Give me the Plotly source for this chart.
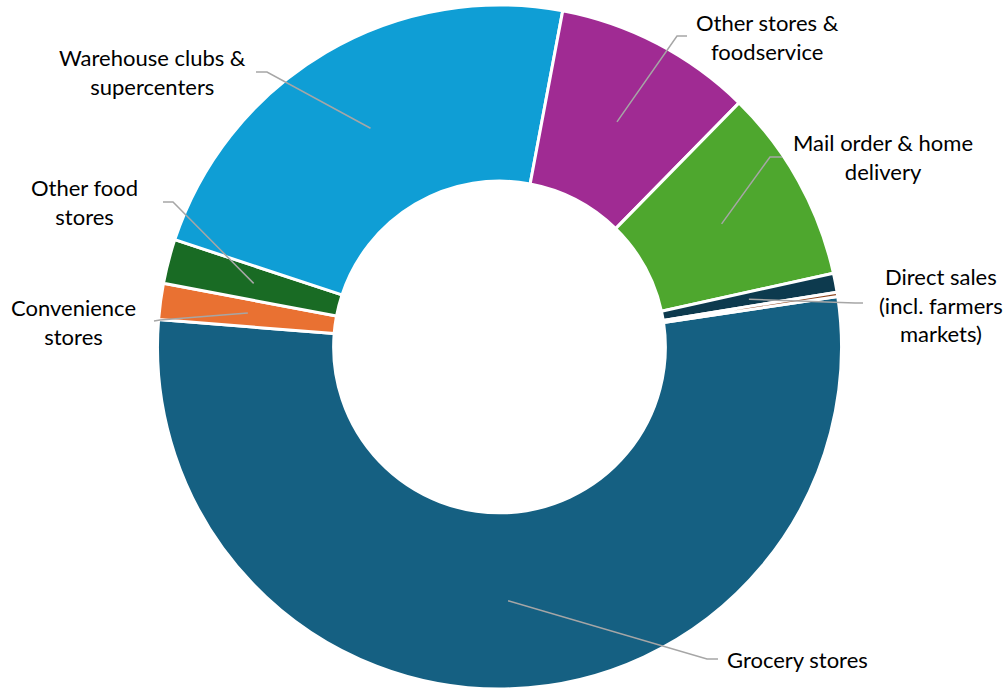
import math
import plotly.graph_objects as go

# Share of food-at-home spending by outlet (percent)
outlets = [
    "Grocery stores",
    "Convenience stores",
    "Other food stores",
    "Warehouse clubs & supercenters",
    "Other stores & foodservice",
    "Mail order & home delivery",
    "Direct sales (incl. farmers markets)",
    "Home production & donations",
]
shares = [53.7, 1.7, 2.1, 22.9, 9.4, 9.2, 0.9, 0.2]
label_texts = [
    "Grocery stores",
    "Convenience<br>stores",
    "Other food<br>stores",
    "Warehouse clubs &<br>supercenters",
    "Other stores &<br>foodservice",
    "Mail order & home<br>delivery",
    "Direct sales<br>(incl. farmers<br>markets)",
    "",
]
colors = ["#156082", "#E97132", "#196B24", "#0F9ED5",
          "#A02B93", "#4EA72E", "#0D3A4E", "#8C441E"]

W, H = 1008, 690
CX, CY, R = 499.5, 347.0, 342.0
ROTATION = 81.5
HOLE = 0.485

# Label placement (pixel centre of text block, elbow point, end of leader)
label_layout = {
    "Grocery stores": dict(text=(797, 659), elbow=(707, 659), end=(718, 659)),
    "Convenience stores": dict(text=(73, 322), elbow=(160, 320), end=(154, 321)),
    "Other food stores": dict(text=(84, 202), elbow=(173, 202), end=(163, 202)),
    "Warehouse clubs & supercenters": dict(text=(152, 72), elbow=(267, 72), end=(256, 72)),
    "Other stores & foodservice": dict(text=(767, 37), elbow=(677, 36), end=(687, 36)),
    "Mail order & home delivery": dict(text=(883, 157), elbow=(770, 157), end=(782, 157)),
    "Direct sales (incl. farmers markets)": dict(text=(941, 305), elbow=(855, 303), end=(863, 303)),
}


def px(x, y):
    return x / W, 1 - y / H


fig = go.Figure(go.Pie(
    labels=outlets,
    values=shares,
    sort=False,
    direction="clockwise",
    rotation=ROTATION,
    hole=HOLE,
    textinfo="none",
    hoverinfo="label+percent",
    marker=dict(colors=colors, line=dict(color="white", width=3)),
    domain=dict(x=[(CX - R) / W, (CX + R) / W],
                y=[(H - CY - R) / H, (H - CY + R) / H]),
    showlegend=False,
))

shapes = []
annotations = []
total = sum(shares)
cum = 0.0
lead_r = R * (1 + HOLE) / 2
for name, v, txt in zip(outlets, shares, label_texts):
    mid = math.radians(ROTATION + (cum + v / 2) / total * 360)
    cum += v
    if name not in label_layout:
        continue
    spec = label_layout[name]
    sx = CX + lead_r * math.sin(mid)
    sy = CY - lead_r * math.cos(mid)
    pts = [px(sx, sy), px(*spec["elbow"]), px(*spec["end"])]
    path = "M {:.5f},{:.5f} L {:.5f},{:.5f} L {:.5f},{:.5f}".format(
        *pts[0], *pts[1], *pts[2])
    shapes.append(dict(type="path", xref="paper", yref="paper", path=path,
                       line=dict(color="#A6A6A6", width=1.5)))
    tx, ty = px(*spec["text"])
    annotations.append(dict(text=txt, x=tx, y=ty, xref="paper", yref="paper",
                            xanchor="center", yanchor="middle", align="center",
                            showarrow=False,
                            font=dict(family="Lato", size=22, color="#000000")))

fig.update_layout(
    width=W, height=H,
    margin=dict(l=0, r=0, t=0, b=0),
    paper_bgcolor="white",
    plot_bgcolor="white",
    shapes=shapes,
    annotations=annotations,
)

fig.write_html("out.html")
